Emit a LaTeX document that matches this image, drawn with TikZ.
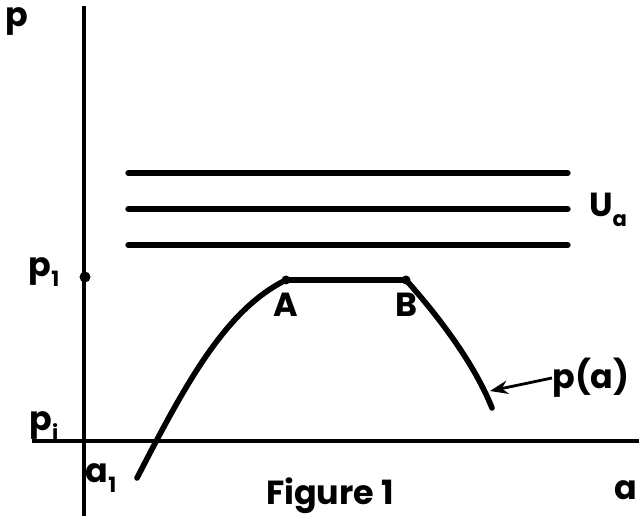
\documentclass[tikz,border=0pt]{standalone}
\usepackage{fontspec}
\setmainfont{Poppins}
\usetikzlibrary{arrows.meta,positioning,calc}
\newcommand{\lowsub}[1]{\raisebox{-0.5ex}{\fontsize{12}{12}\selectfont #1}}

\begin{document}
\begin{tikzpicture}[>=Stealth, x=0.02cm, y=-0.02cm,
  axis/.style={line width=2pt},
  level/.style={line width=3pt, line cap=round},
  curve/.style={line width=3.2pt, line cap=round},
  lbl/.style={inner sep=0pt, font=\fontsize{19}{21}\selectfont\bfseries}]
\useasboundingbox (0,0) rectangle (639,516);
% axes
\coordinate (ytop) at (84,6);
\coordinate (ybot) at (84,516);
\coordinate (xleft) at (32,441);
\coordinate (xright) at (639,441);
\draw[axis] (ybot) -- (ytop);
\draw[axis] (xleft) -- (xright);
\node[lbl] (plab) at (17,22) {p};
\node[lbl, anchor=east] (alab) at (638,490) {a};
\node[lbl] (p1lab) at (44,272) {p\lowsub{1}};
\node[lbl] (pilab) at (44,426) {p\lowsub{i}};
\node[lbl] (a1lab) at (101,478) {a\lowsub{1}};
\fill (85,277) circle (5.5);
% levels U_a
\foreach \y in {173,209,245}
  \draw[level] (128,\y) -- (568,\y);
\node[lbl] (ulab) at (608,210) {U\lowsub{a}};
% the curve p(a)
\coordinate (A) at (286,280);
\coordinate (B) at (406,280);
\draw[curve] (137,478) .. controls (185,385) and (225,310) .. (A) -- (B)
  .. controls (440,318) and (475,365) .. (492,408);
\fill (A) circle (4.5);
\fill (B) circle (4.5);
\node[lbl, below=5mm of A, anchor=center] (Alab) {A};
\node[lbl, below=5mm of B, anchor=center] (Blab) {B};
\coordinate (pa) at (490,391);
\node[lbl, anchor=west] (palab) at (552,378) {p(a)};
\draw[->, line width=1.6pt] (palab.west) -- (pa);
\node[lbl, anchor=south] (fig) at (330,514) {Figure 1};
\end{tikzpicture}
\end{document}
